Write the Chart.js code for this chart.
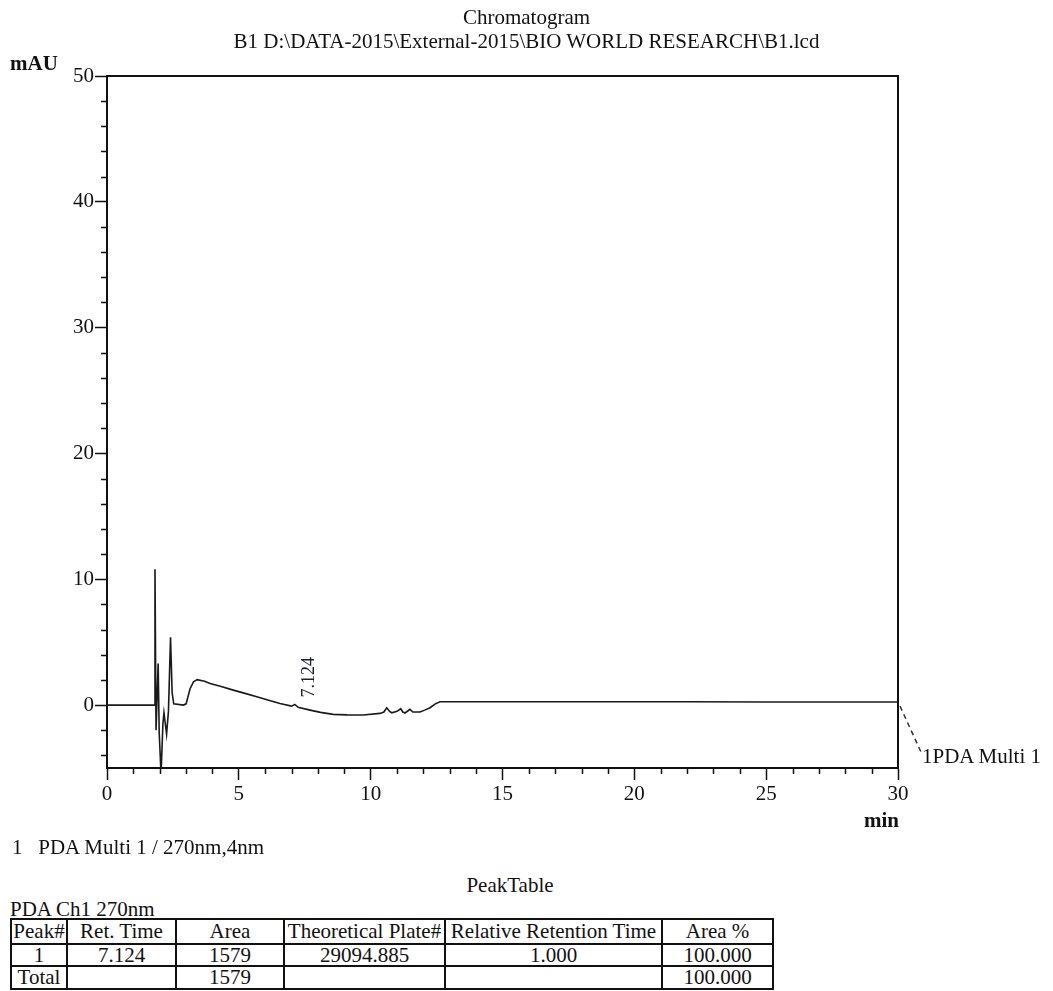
<!DOCTYPE html>
<html>
<head>
<meta charset="utf-8">
<script src="https://cdn.jsdelivr.net/npm/chart.js@4.4.1/dist/chart.umd.min.js"></script>
<style>
  body { margin: 0; background: #fff; }
  #page { position: relative; width: 1053px; height: 991px; font-family: 'Liberation Serif', 'Times New Roman', serif; color: #111; }
  #page canvas { position: absolute; left: 0; top: 0; }
  .txt { position: absolute; font-size: 21px; line-height: 21px; white-space: nowrap; }
  #title { position: absolute; left: 0; top: 5px; width: 1053px; text-align: center; font-size: 21px; line-height: 24px; }
  #peaks { position: absolute; left: 10px; top: 918px; width: 762px; border-collapse: collapse; table-layout: fixed; font-size: 21px; line-height: 19px; }
  #peaks td { border: 2px solid #111; padding: 0; text-align: center; white-space: nowrap; overflow: hidden; }
</style>
</head>
<body>
<div id="page">
  <canvas id="chart" width="1053" height="840"></canvas>
  <div id="title">Chromatogram<br>B1 D:\DATA-2015\External-2015\BIO WORLD RESEARCH\B1.lcd</div>
  <div class="txt" style="left:10px; top:53px; font-weight:bold;">mAU</div>
  <div class="txt" style="left:864px; top:810px; font-weight:bold;">min</div>
  <div class="txt" style="left:922px; top:746px;">1PDA Multi 1</div>
  <div class="txt" style="left:12px; top:837px;">1&nbsp;&nbsp;&nbsp;PDA Multi 1 / 270nm,4nm</div>
  <div class="txt" style="left:410px; top:875px; width:200px; text-align:center;">PeakTable</div>
  <div class="txt" style="left:10px; top:899px;">PDA Ch1 270nm</div>
  <table id="peaks"></table>
</div>
<script>
// retention time (min) and absorbance (mAU)
const times = [0, 1.0, 1.80, 1.82, 1.86, 1.94, 1.98, 2.05, 2.12, 2.16, 2.26, 2.33, 2.41, 2.47, 2.53,
  2.90, 3.00, 3.15, 3.28, 3.42, 3.70, 3.91, 4.30, 4.79, 5.20, 5.68, 6.10, 6.56, 7.00, 7.124, 7.25,
  7.70, 8.10, 8.58, 9.10, 9.72, 10.35, 10.50, 10.61, 10.72, 10.80, 11.00, 11.14, 11.22, 11.30,
  11.42, 11.49, 11.60, 11.87, 12.05, 12.25, 12.45, 12.63, 13.26, 15, 18, 20, 22, 25, 28, 30];
const mau = [0, 0, 0, 10.8, -2.0, 3.3, -2.2, -5.5, -1.5, -0.6, -2.3, -0.5, 5.4, 1.0, 0.1,
  0.0, 0.1, 1.3, 1.85, 2.02, 1.9, 1.72, 1.5, 1.19, 0.95, 0.66, 0.4, 0.13, -0.08, 0.05, -0.18,
  -0.4, -0.58, -0.74, -0.78, -0.79, -0.66, -0.55, -0.21, -0.5, -0.61, -0.5, -0.29, -0.55, -0.63,
  -0.45, -0.34, -0.55, -0.55, -0.4, -0.21, 0.1, 0.26, 0.27, 0.27, 0.26, 0.26, 0.26, 0.25, 0.25, 0.24];

const xTicks = [0, 5, 10, 15, 20, 25, 30];
const yTicks = [0, 10, 20, 30, 40, 50];

// peak table
const peakNo = ['1', 'Total'];
const retTime = ['7.124', ''];
const area = ['1579', '1579'];
const plates = ['29094.885', ''];
const relRet = ['1.000', ''];
const areaPct = ['100.000', '100.000'];
const headers = ['Peak#', 'Ret. Time', 'Area', 'Theoretical Plate#', 'Relative Retention Time', 'Area %'];
const colWidths = [56, 109, 108, 161, 217, 111];
const rowHeights = [25, 22, 23];

const serif = "'Liberation Serif', 'Times New Roman', serif";
const ink = '#111';

function buildTable() {
  const table = document.getElementById('peaks');
  const cg = document.createElement('colgroup');
  colWidths.forEach(w => {
    const col = document.createElement('col');
    col.style.width = w + 'px';
    cg.appendChild(col);
  });
  table.appendChild(cg);
  const rows = [headers];
  for (let i = 0; i < peakNo.length; i++) {
    rows.push([peakNo[i], retTime[i], area[i], plates[i], relRet[i], areaPct[i]]);
  }
  rows.forEach((r, ri) => {
    const tr = document.createElement('tr');
    tr.style.height = rowHeights[ri] + 'px';
    r.forEach(c => {
      const td = document.createElement('td');
      td.textContent = c;
      tr.appendChild(td);
    });
    table.appendChild(tr);
  });
}
buildTable();

const extras = {
  id: 'extras',
  afterDraw(chart) {
    const { ctx, chartArea: a, scales: { x, y } } = chart;
    ctx.save();
    ctx.strokeStyle = ink;
    ctx.lineWidth = 2;
    ctx.beginPath();
    ctx.moveTo(a.left, a.top);
    ctx.lineTo(a.right, a.top);
    ctx.lineTo(a.right, a.bottom);
    ctx.stroke();

    // minor ticks
    ctx.lineWidth = 1.5;
    ctx.beginPath();
    for (let v = x.min + 1; v < x.max; v += 1) {
      if (v % 5 === 0) continue;
      const px = Math.round(x.getPixelForValue(v)) + 0.5;
      ctx.moveTo(px, a.bottom);
      ctx.lineTo(px, a.bottom + 6);
    }
    for (let v = -4; v < y.max; v += 2) {
      if (v % 10 === 0) continue;
      const py = Math.round(y.getPixelForValue(v)) + 0.5;
      ctx.moveTo(a.left, py);
      ctx.lineTo(a.left - 6, py);
    }
    ctx.stroke();

    // peak label
    const i = times.indexOf(7.124);
    const px = x.getPixelForValue(times[i]);
    const py = y.getPixelForValue(mau[i]);
    ctx.translate(px + 14, py - 7);
    ctx.rotate(-Math.PI / 2);
    ctx.fillStyle = '#1c1c3a';
    ctx.font = '18px ' + serif;
    ctx.textAlign = 'left';
    ctx.textBaseline = 'middle';
    ctx.fillText(retTime[0], 0, 0);
    ctx.setTransform(1, 0, 0, 1, 0, 0);

    // channel marker at the end of the trace
    const ex = x.getPixelForValue(times[times.length - 1]);
    const ey = y.getPixelForValue(mau[mau.length - 1]);
    ctx.strokeStyle = '#333';
    ctx.lineWidth = 1.5;
    ctx.setLineDash([5, 4]);
    ctx.beginPath();
    ctx.moveTo(ex + 2, ey + 4);
    ctx.lineTo(ex + 23, ey + 50);
    ctx.stroke();
    ctx.restore();
  }
};

new Chart(document.getElementById('chart'), {
  type: 'line',
  data: {
    datasets: [{
      label: 'PDA Multi 1',
      data: times.map((t, k) => ({ x: t, y: mau[k] })),
      borderColor: '#1a1a1a',
      borderWidth: 1.6,
      pointRadius: 0,
      tension: 0,
      fill: false
    }]
  },
  options: {
    responsive: false,
    animation: false,
    layout: { padding: { top: 76, right: 155, left: 0, bottom: 0 } },
    plugins: { legend: { display: false }, tooltip: { enabled: false } },
    scales: {
      x: {
        type: 'linear', min: 0, max: 30,
        afterBuildTicks: s => { s.ticks = xTicks.map(v => ({ value: v })); },
        afterFit: s => { s.height = 72; },
        ticks: { color: ink, font: { family: serif, size: 21 }, padding: 2, maxRotation: 0 },
        grid: { drawOnChartArea: false, tickLength: 12, tickColor: ink, tickWidth: 1.5 },
        border: { color: ink, width: 2 }
      },
      y: {
        min: -5, max: 50,
        afterBuildTicks: s => { s.ticks = yTicks.map(v => ({ value: v })); },
        afterFit: s => { s.width = 107; },
        ticks: { color: ink, font: { family: serif, size: 21 }, padding: 1 },
        grid: { drawOnChartArea: false, tickLength: 12, tickColor: ink, tickWidth: 1.5 },
        border: { color: ink, width: 2 }
      }
    }
  },
  plugins: [extras]
});
</script>
</body>
</html>
